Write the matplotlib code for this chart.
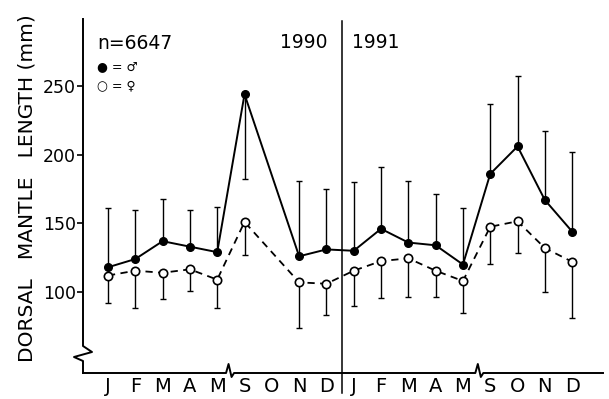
#!/usr/bin/env python3

import matplotlib
matplotlib.use("Agg")
import matplotlib.pyplot as plt
import numpy as np

# month labels, two years
months = ["J", "F", "M", "A", "M", "S", "O", "N", "D",
          "J", "F", "M", "A", "M", "S", "O", "N", "D"]
# slot of each sample (no October 1990)
slots = [0, 1, 2, 3, 4, 5, 7, 8, 9, 10, 11, 12, 13, 14, 15, 16, 17]

male_mean = [118, 124, 137, 133, 129, 244, 126, 131,
             130, 146, 136, 134, 120, 186, 206, 167, 144]
male_sd = [43, 36, 31, 27, 33, 62, 55, 44,
           50, 45, 45, 37, 41, 51, 51, 50, 58]
# +1 bar drawn upward, -1 drawn downward
male_dir = [1, 1, 1, 1, 1, -1, 1, 1,
            1, 1, 1, 1, 1, 1, 1, 1, 1]

female_mean = [112, 115.5, 114, 116.5, 109, 151, 107, 106,
               115.5, 122.5, 124.5, 115.5, 108, 147.5, 151.5, 132, 122]
female_sd = [20, 27, 19, 16, 21, 24, 33, 23,
             26, 27, 28, 19, 23, 27, 23, 32, 41]

yticks = [100, 150, 200, 250]

W, H = 609, 399
fig = plt.figure(figsize=(W / 100, H / 100), dpi=100)
ax = fig.add_axes([83 / W, 1 - 373 / H, (603 - 83) / W, (373 - 19) / H])

xmin, xmax = -0.916, 18.13
ymin, ymax = 41.0, 298.8
ax.set_xlim(xmin, xmax)
ax.set_ylim(ymin, ymax)
px_x = (xmax - xmin) / (603 - 83)
px_y = (ymax - ymin) / (373 - 19)

x = np.array(slots, dtype=float)
m = np.array(male_mean, dtype=float)
f = np.array(female_mean, dtype=float)
msd = np.array(male_sd) * np.array(male_dir)
fsd = np.array(female_sd, dtype=float)

# error bars: male one-sided, female downward
cap = dict(marker="_", color="k", markersize=5, mew=1.0, ls="none", zorder=2)
ax.vlines(x, m, m + msd, color="k", lw=1.0, zorder=2)
ax.plot(x, m + msd, **cap)
ax.vlines(x, f - fsd, f, color="k", lw=1.0, zorder=2)
ax.plot(x, f - fsd, **cap)

ax.plot(x, m, "-", color="k", lw=1.4, marker="o", markersize=5.5,
        mfc="k", mec="k", zorder=4)
ax.plot(x, f, "--", color="k", lw=1.3, dashes=(4, 3), marker="o",
        markersize=6, mfc="white", mec="k", mew=1.2, zorder=4)

# axes with break marks
for s in ax.spines.values():
    s.set_visible(False)
lk = dict(color="k", lw=1.4, clip_on=False, zorder=3)
ax.plot([xmin, xmin, xmin + 9 * px_x, xmin - 9 * px_x, xmin, xmin],
        [ymax, ymin + 27 * px_y, ymin + 21 * px_y, ymin + 16 * px_y,
         ymin + 12 * px_y, ymin], **lk)
xs = [xmin]
ys = [ymin]
for b in [4.47, 13.6]:
    xs += [b - 4 * px_x, b - 1.5 * px_x, b + 1.5 * px_x, b + 4 * px_x]
    ys += [ymin, ymin + 9 * px_y, ymin - 4 * px_y, ymin]
xs.append(xmax)
ys.append(ymin)
ax.plot(xs, ys, **lk)

# year separator
ax.plot([8.57, 8.57], [297.4, 26.4], color="k", lw=1.1, clip_on=False)

ax.set_yticks(yticks)
ax.set_yticklabels([str(v) for v in yticks], fontsize=12.5)
ax.tick_params(axis="y", direction="out", length=4, width=1.2, pad=1)
ax.set_xticks(range(len(months)))
ax.set_xticklabels(months, fontsize=14)
ax.tick_params(axis="x", length=0, pad=3)

fig.text(27 / W, 0.529, "DORSAL   MANTLE   LENGTH (mm)", rotation=90,
         ha="center", va="center", fontsize=14.5)

ax.text(-0.4, 280.6, "n=6647", fontsize=13.5, ha="left", va="center")
ax.text(-0.4, 264.5, "\u25cf = \u2642", fontsize=9, ha="left", va="center")
ax.text(-0.4, 250.5, "\u25cb = \u2640", fontsize=9, ha="left", va="center")
ax.text(7.18, 282, "1990", fontsize=13.5, ha="center", va="center")
ax.text(9.82, 282, "1991", fontsize=13.5, ha="center", va="center")

fig.savefig("out.png", dpi=100)
